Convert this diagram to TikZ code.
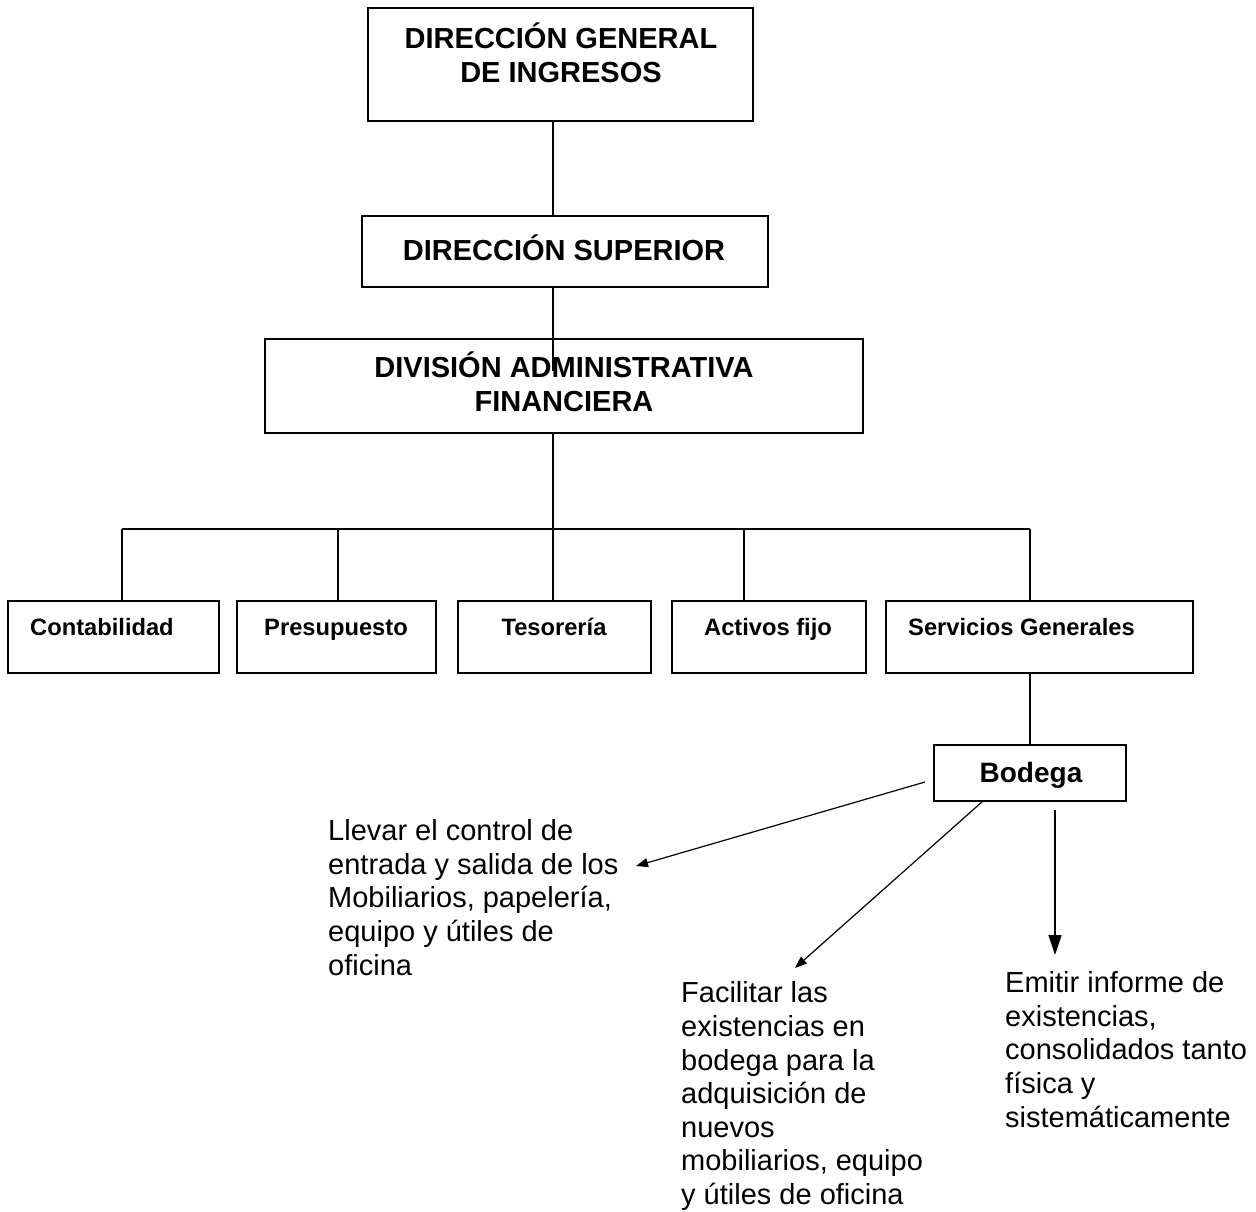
\documentclass[tikz,border=0pt]{standalone}
\usepackage{fontspec}
\setmainfont{Liberation Sans}
\usetikzlibrary{arrows.meta}

\begin{document}
\begin{tikzpicture}[x=1pt,y=-1pt,
  unit/.style={draw, line width=1.8pt, inner sep=0pt},
  bigtext/.style={font=\fontsize{29}{33.5}\selectfont\bfseries, inner sep=0pt, align=center},
  smalltext/.style={font=\fontsize{23.7}{28}\selectfont\bfseries, inner sep=0pt},
  bodytext/.style={font=\fontsize{29}{33.6}\selectfont, inner sep=0pt, align=left},
  link/.style={line width=1.5pt},
  taskarrow/.style={line width=1.2pt, -{Triangle[length=12pt,width=9pt]}},
  bigarrow/.style={line width=1.4pt, -{Triangle[length=20pt,width=13pt]}}]

  % canvas
  \useasboundingbox (0,0) rectangle (1256,1211);

  % upper hierarchy (multi-line labels are placed by the baseline of their last line)
  \node[unit, minimum width=385pt, minimum height=113pt] (dgi) at (560.5,64.5) {};
  \node[bigtext, anchor=base] (dgit) at (561,82) {DIRECCIÓN GENERAL\\DE INGRESOS};
  \node[unit, minimum width=406pt, minimum height=71pt] (ds) at (565,251.5) {};
  \node[bigtext, anchor=base] (dst) at (564,260) {DIRECCIÓN SUPERIOR};
  \node[unit, minimum width=598pt, minimum height=94pt] (dv) at (564,386) {};
  \node[bigtext, anchor=base] (dvt) at (564,411) {DIVISIÓN ADMINISTRATIVA\\FINANCIERA};

  % departments
  \node[unit, minimum width=211pt, minimum height=72pt] (cont) at (113.5,637) {};
  \node[smalltext, anchor=base west] at (30,635) {Contabilidad};
  \node[unit, minimum width=199pt, minimum height=72pt] (pres) at (336.5,637) {};
  \node[smalltext, anchor=base] at (336,635) {Presupuesto};
  \node[unit, minimum width=193pt, minimum height=72pt] (tes) at (554.5,637) {};
  \node[smalltext, anchor=base] at (554,635) {Tesorería};
  \node[unit, minimum width=194pt, minimum height=72pt] (act) at (769,637) {};
  \node[smalltext, anchor=base] at (768,635) {Activos fijo};
  \node[unit, minimum width=307pt, minimum height=72pt] (sg) at (1039.5,637) {};
  \node[smalltext, anchor=base west] at (908,635) {Servicios Generales};

  % storeroom
  \node[unit, minimum width=192pt, minimum height=56pt] (bod) at (1030,773) {};
  \node[font=\fontsize{28}{33}\selectfont\bfseries, inner sep=0pt, anchor=base] at (1031,782) {Bodega};

  % trunk and bus
  \coordinate (trunk) at (553,0);
  \coordinate (b1) at (122,529);
  \coordinate (b2) at (338,529);
  \coordinate (b4) at (744,529);
  \coordinate (b5) at (1030,529);

  \draw[link] (dgi.south -| trunk) -- (ds.north -| trunk);
  \draw[link] (ds.south -| trunk) -- ([yshift=-33pt]dv.north -| trunk);
  \draw[link] (dv.south -| trunk) -- (tes.north -| trunk);
  \draw[link] (b1) -- (b5);
  \draw[link] (b1) -- (b1 |- cont.north);
  \draw[link] (b2) -- (b2 |- pres.north);
  \draw[link] (b4) -- (b4 |- act.north);
  \draw[link] (b5) -- (b5 |- sg.north);
  \draw[link] (sg.south -| bod.north) -- (bod.north);

  % tasks
  \node[bodytext, anchor=base west] (t1) at (328,975) {Llevar el control de\\entrada y salida de los\\Mobiliarios, papelería,\\equipo y útiles de\\oficina};
  \node[bodytext, anchor=base west] (t2) at (681,1204.5) {Facilitar las\\existencias en\\bodega para la\\adquisición de\\nuevos\\mobiliarios, equipo\\y útiles de oficina};
  \node[bodytext, anchor=base west] (t3) at (1005,1127) {Emitir informe de\\existencias,\\consolidados tanto\\física y\\sistemáticamente};

  \coordinate (a1s) at (925,782);
  \coordinate (a1e) at (636,866);
  \coordinate (a2s) at (983,801);
  \coordinate (a2e) at (795,968);
  \coordinate (a3s) at (1055,810);
  \coordinate (a3e) at (1055,955);
  \draw[taskarrow] (a1s) -- (a1e);
  \draw[taskarrow] (a2s) -- (a2e);
  \draw[bigarrow] (a3s) -- (a3e);
\end{tikzpicture}
\end{document}
